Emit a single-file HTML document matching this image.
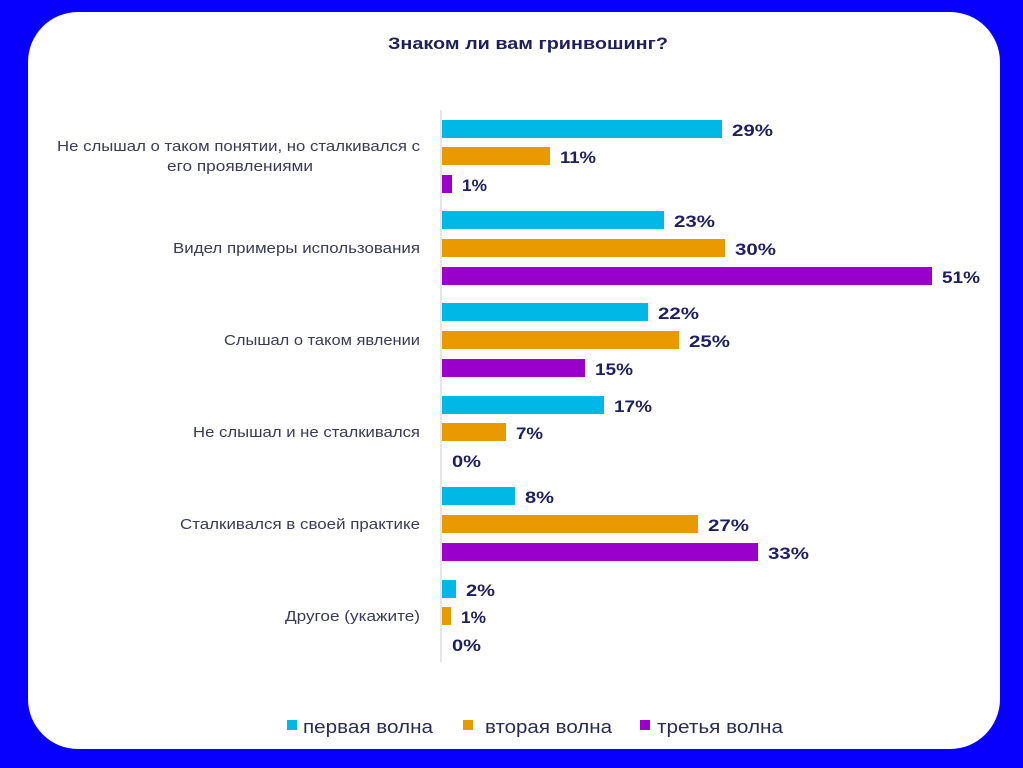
<!DOCTYPE html>
<html><head><meta charset="utf-8"><style>
html,body{margin:0;padding:0;background:#0a00ff;}
svg{display:block;}
</style></head><body>
<svg width="1023" height="768" xmlns="http://www.w3.org/2000/svg" font-family="Liberation Sans, DejaVu Sans, sans-serif">
<rect width="1023" height="768" fill="#0800ff"/>
<rect x="28" y="12" width="972" height="737" rx="50" fill="#fff"/>
<text x="388" y="49" font-size="17" font-weight="bold" fill="#1f1f5c" textLength="280" lengthAdjust="spacingAndGlyphs">Знаком ли вам гринвошинг?</text>
<line x1="441" y1="110" x2="441" y2="662" stroke="#ddd" stroke-width="1.5"/>
<g font-size="15" fill="#3a3a55" lengthAdjust="spacingAndGlyphs">
<text x="57" y="151" textLength="363" lengthAdjust="spacingAndGlyphs">Не слышал о таком понятии, но сталкивался с</text>
<text x="167" y="171" textLength="146" lengthAdjust="spacingAndGlyphs">его проявлениями</text>
<text x="173" y="253" textLength="247" lengthAdjust="spacingAndGlyphs">Видел примеры использования</text>
<text x="224" y="345" textLength="196" lengthAdjust="spacingAndGlyphs">Слышал о таком явлении</text>
<text x="193" y="437" textLength="227" lengthAdjust="spacingAndGlyphs">Не слышал и не сталкивался</text>
<text x="180" y="529" textLength="240" lengthAdjust="spacingAndGlyphs">Сталкивался в своей практике</text>
<text x="285" y="621" textLength="135" lengthAdjust="spacingAndGlyphs">Другое (укажите)</text>
</g>
<g>
<rect x="442" y="120" width="280" height="18" fill="#00b8e6"/>
<rect x="442" y="147" width="108" height="18" fill="#e89a00"/>
<rect x="442" y="175" width="10" height="18" fill="#9900cc"/>
<rect x="442" y="211" width="222" height="18" fill="#00b8e6"/>
<rect x="442" y="239" width="283" height="18" fill="#e89a00"/>
<rect x="442" y="267" width="490" height="18" fill="#9900cc"/>
<rect x="442" y="303" width="206" height="18" fill="#00b8e6"/>
<rect x="442" y="331" width="237" height="18" fill="#e89a00"/>
<rect x="442" y="359" width="143" height="18" fill="#9900cc"/>
<rect x="442" y="396" width="162" height="18" fill="#00b8e6"/>
<rect x="442" y="423" width="64" height="18" fill="#e89a00"/>
<rect x="442" y="487" width="73" height="18" fill="#00b8e6"/>
<rect x="442" y="515" width="256" height="18" fill="#e89a00"/>
<rect x="442" y="543" width="316" height="18" fill="#9900cc"/>
<rect x="442" y="580" width="14" height="18" fill="#00b8e6"/>
<rect x="442" y="607" width="9" height="18" fill="#e89a00"/>
</g>
<g font-size="17" font-weight="bold" fill="#1f1f5c">
<text x="732" y="136" textLength="41" lengthAdjust="spacingAndGlyphs">29%</text>
<text x="560" y="163" textLength="36" lengthAdjust="spacingAndGlyphs">11%</text>
<text x="462" y="191" textLength="25" lengthAdjust="spacingAndGlyphs">1%</text>
<text x="674" y="227" textLength="41" lengthAdjust="spacingAndGlyphs">23%</text>
<text x="735" y="255" textLength="41" lengthAdjust="spacingAndGlyphs">30%</text>
<text x="942" y="283" textLength="38" lengthAdjust="spacingAndGlyphs">51%</text>
<text x="658" y="319" textLength="41" lengthAdjust="spacingAndGlyphs">22%</text>
<text x="689" y="347" textLength="41" lengthAdjust="spacingAndGlyphs">25%</text>
<text x="595" y="375" textLength="38" lengthAdjust="spacingAndGlyphs">15%</text>
<text x="614" y="412" textLength="38" lengthAdjust="spacingAndGlyphs">17%</text>
<text x="516" y="439" textLength="27" lengthAdjust="spacingAndGlyphs">7%</text>
<text x="452" y="467" textLength="29" lengthAdjust="spacingAndGlyphs">0%</text>
<text x="525" y="503" textLength="29" lengthAdjust="spacingAndGlyphs">8%</text>
<text x="708" y="531" textLength="41" lengthAdjust="spacingAndGlyphs">27%</text>
<text x="768" y="559" textLength="41" lengthAdjust="spacingAndGlyphs">33%</text>
<text x="466" y="596" textLength="29" lengthAdjust="spacingAndGlyphs">2%</text>
<text x="461" y="623" textLength="25" lengthAdjust="spacingAndGlyphs">1%</text>
<text x="452" y="651" textLength="29" lengthAdjust="spacingAndGlyphs">0%</text>
</g>
<g font-size="18" fill="#2a2a55">
<rect x="287" y="720" width="10" height="10" fill="#00b8e6"/>
<text x="303" y="733" textLength="130" lengthAdjust="spacingAndGlyphs">первая волна</text>
<rect x="463" y="720" width="10" height="10" fill="#e89a00"/>
<text x="485" y="733" textLength="127" lengthAdjust="spacingAndGlyphs">вторая волна</text>
<rect x="640" y="720" width="10" height="10" fill="#9900cc"/>
<text x="657" y="733" textLength="126" lengthAdjust="spacingAndGlyphs">третья волна</text>
</g>
</svg>
</body></html>
